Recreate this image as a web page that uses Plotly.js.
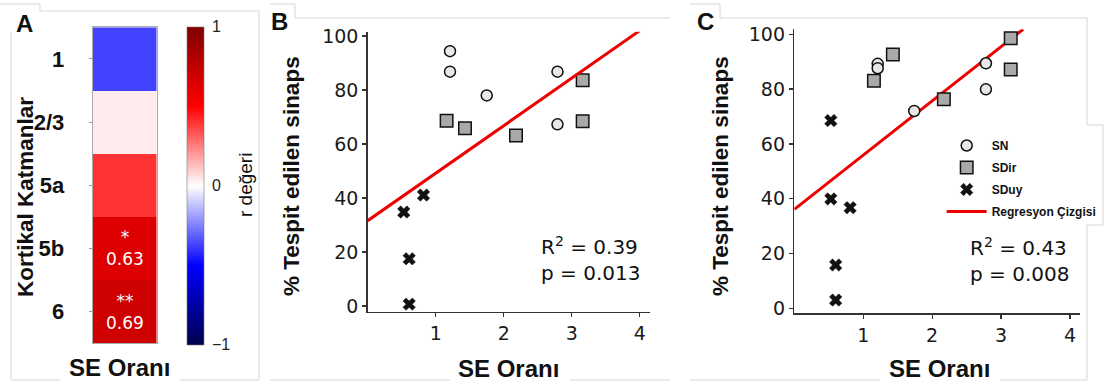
<!DOCTYPE html>
<html><head><meta charset="utf-8">
<script src="https://cdn.plot.ly/plotly-3.0.1.min.js"></script>
<style>html,body{margin:0;padding:0;background:#fff;} #chart{width:1105px;height:384px;}</style>
</head><body><div id="chart"></div>
<script>
// ---------- Panel A data ----------
const layers = ['1', '2/3', '5a', '5b', '6'];
const rValues = [-0.37, 0.04, 0.40, 0.63, 0.69];
const rStars = ['', '', '', '*', '**'];
const rLabels = ['', '', '', '0.63', '0.69'];
const heatCol = ['SE Oranı'];
const cbTickVals = [-1, 0, 1];
const cbTickText = ['−1', '0', '1'];

// ---------- Panel B data ----------
const B_SN_x = [1.21, 1.21, 1.75, 2.79, 2.79];
const B_SN_y = [94.4, 86.8, 78.0, 86.8, 67.3];
const B_SDir_x = [1.16, 1.43, 2.18, 3.16, 3.16];
const B_SDir_y = [68.6, 65.8, 63.2, 83.6, 68.4];
const B_SDuy_x = [0.53, 0.82, 0.61, 0.61];
const B_SDuy_y = [34.8, 41.1, 17.5, 0.7];
const B_reg_x = [0, 4.0];
const B_reg_y = [31.6, 102.0];
const B_stats = ['R<sup>2</sup> = 0.39', 'p = 0.013'];

// ---------- Panel C data ----------
const C_SN_x = [1.21, 1.21, 1.74, 2.78, 2.78];
const C_SN_y = [89.2, 87.6, 72.0, 89.4, 79.9];
const C_SDir_x = [1.155, 1.43, 2.17, 3.14, 3.14];
const C_SDir_y = [83.0, 92.6, 76.3, 98.5, 87.1];
const C_SDuy_x = [0.53, 0.53, 0.81, 0.60, 0.60];
const C_SDuy_y = [68.5, 39.9, 36.7, 15.8, 3.0];
const C_reg_x = [0, 3.32];
const C_reg_y = [36.1, 101.8];
const C_stats = ['R<sup>2</sup> = 0.43', 'p = 0.008'];

const xTicks = [1, 2, 3, 4];
const yTicks = [0, 20, 40, 60, 80, 100];
const seriesNames = ['SN', 'SDir', 'SDuy', 'Regresyon Çizgisi'];
const xTitle = 'SE Oranı';
const yTitle = '% Tespit edilen sinaps';
const heatYTitle = 'Kortikal Katmanlar';
const cbTitle = 'r değeri';

// ---------- helpers ----------
const W = 1105, H = 384;
const px = v => v / W;
const py = v => 1 - v / H;

const SANS = 'Liberation Sans, Arial, sans-serif';
const DJ = 'DejaVu Sans, sans-serif';

const seismic = [[0, 'rgb(0,0,77)'], [0.25, 'rgb(0,0,255)'], [0.5, 'rgb(255,255,255)'], [0.75, 'rgb(255,0,0)'], [1, 'rgb(128,0,0)']];

const snMarker = {symbol: 'circle', size: 11, color: '#e8e8e8', line: {color: '#111', width: 1.5}};
const sdirMarker = {symbol: 'square', size: 12.5, color: '#a9a9a9', line: {color: '#111', width: 1.5}};
const sduyMarker = {symbol: 'x', size: 11, color: '#111', line: {color: '#111', width: 0.5}};
const regLine = {color: '#ee0000', width: 3};

const traces = [
  {type: 'heatmap', x: heatCol, y: layers, z: rValues.map(v => [v]),
   colorscale: seismic, zmin: -1, zmax: 1, xaxis: 'x', yaxis: 'y', hoverinfo: 'skip',
   colorbar: {x: px(187.3), xanchor: 'left', xpad: 0, y: py(185.5), yanchor: 'middle', ypad: 0,
     len: (344.3 - 26.7) / H, lenmode: 'fraction', thickness: 17, thicknessmode: 'pixels',
     outlinewidth: 0.6, outlinecolor: '#777', tickvals: cbTickVals, ticktext: cbTickText,
     ticks: 'outside', ticklen: 5, tickcolor: 'rgba(0,0,0,0)',
     tickfont: {family: SANS, size: 16, color: '#222'}}},
  // B
  {type: 'scatter', mode: 'markers', x: B_SN_x, y: B_SN_y, marker: snMarker, xaxis: 'x2', yaxis: 'y2', showlegend: false, name: seriesNames[0]},
  {type: 'scatter', mode: 'markers', x: B_SDir_x, y: B_SDir_y, marker: sdirMarker, xaxis: 'x2', yaxis: 'y2', showlegend: false, name: seriesNames[1]},
  {type: 'scatter', mode: 'markers', x: B_SDuy_x, y: B_SDuy_y, marker: sduyMarker, xaxis: 'x2', yaxis: 'y2', showlegend: false, name: seriesNames[2]},
  {type: 'scatter', mode: 'lines', x: B_reg_x, y: B_reg_y, line: regLine, xaxis: 'x2', yaxis: 'y2', showlegend: false, name: seriesNames[3]},
  // C
  {type: 'scatter', mode: 'lines', x: C_reg_x, y: C_reg_y, line: regLine, xaxis: 'x3', yaxis: 'y3', showlegend: true, name: seriesNames[3], legendgroup: 'g4', legendrank: 4},
  {type: 'scatter', mode: 'markers', x: C_SN_x, y: C_SN_y, marker: snMarker, xaxis: 'x3', yaxis: 'y3', showlegend: true, name: seriesNames[0], legendgroup: 'g1', legendrank: 1},
  {type: 'scatter', mode: 'markers', x: C_SDir_x, y: C_SDir_y, marker: sdirMarker, xaxis: 'x3', yaxis: 'y3', showlegend: true, name: seriesNames[1], legendgroup: 'g2', legendrank: 2},
  {type: 'scatter', mode: 'markers', x: C_SDuy_x, y: C_SDuy_y, marker: sduyMarker, xaxis: 'x3', yaxis: 'y3', showlegend: true, name: seriesNames[2], legendgroup: 'g3', legendrank: 3}
];

const scAxisX = {ticks: 'outside', ticklen: 4, tickwidth: 1.3, tickcolor: '#333', showline: true, linecolor: '#333', linewidth: 1.5,
  showgrid: false, zeroline: false, tickvals: xTicks, tickfont: {family: DJ, size: 19, color: '#1a1a1a'}, fixedrange: true};
const scAxisY = Object.assign({}, scAxisX, {tickvals: yTicks});

const annotations = [];
function ann(text, x, y, size, opts) {
  annotations.push(Object.assign({text: text, x: px(x), y: py(y), xref: 'paper', yref: 'paper', showarrow: false,
    xanchor: 'center', yanchor: 'middle', font: {family: SANS, size: size, color: '#111', weight: 'bold'}}, opts || {}));
}
ann('A', 24, 23, 24);
ann('B', 279.5, 22, 24);
ann('C', 705.5, 22, 24);
ann(heatYTitle, 25, 197, 22.5, {textangle: -90});
ann(xTitle, 119, 367, 24);
ann(xTitle, 509, 368, 24);
ann(xTitle, 939, 368, 24);
ann(yTitle, 292, 176, 22.5, {textangle: -90});
ann(yTitle, 721, 176, 22.5, {textangle: -90});
ann(cbTitle, 246, 185, 19, {textangle: -90, font: {family: SANS, size: 19, color: '#111'}});
ann(B_stats.join('<br>'), 539.3, 259, 20, {xanchor: 'left', align: 'left', font: {family: DJ, size: 20, color: '#111'}});
ann(C_stats.join('<br>'), 967.7, 259.5, 20, {xanchor: 'left', align: 'left', font: {family: DJ, size: 20, color: '#111'}});
// heatmap cell labels (category index positions)
layers.forEach((l, i) => {
  if (rLabels[i]) {
    annotations.push({text: rStars[i] + '<br>' + rLabels[i], x: 0, y: i, xref: 'x', yref: 'y',
      showarrow: false, font: {family: DJ, size: 17, color: '#fff'}, align: 'center'});
  }
});

// faint panel borders
const shapes = [];
function L(x0, y0, x1, y1) {
  shapes.push({type: 'line', xref: 'paper', yref: 'paper', x0: px(x0), y0: py(y0), x1: px(x1), y1: py(y1),
    line: {color: '#d6d6d6', width: 1}, layer: 'below'});
}
L(0, 4, 40, 4); L(40, 4, 40, 11); L(40, 11, 259, 11); L(11, 32, 11, 380); L(259, 11, 259, 380);
L(11, 380, 60, 380); L(180, 380, 259, 380);
L(270, 4, 295, 4); L(295, 4, 295, 18); L(295, 18, 670, 18); L(270, 380, 450, 380); L(570, 380, 670, 380);
L(690, 4, 720, 4); L(720, 4, 720, 18); L(720, 18, 1087, 18); L(1087, 18, 1087, 125); L(1087, 125, 1103, 125);
L(1103, 125, 1103, 225); L(1087, 225, 1103, 225); L(1087, 225, 1087, 380); L(690, 380, 880, 380); L(1000, 380, 1087, 380);

const layout = {
  width: W, height: H, autosize: false, margin: {l: 0, r: 0, t: 0, b: 0, pad: 0},
  paper_bgcolor: '#fff', plot_bgcolor: 'rgba(0,0,0,0)', font: {family: SANS, color: '#111'},
  xaxis: {domain: [px(92.7), px(156.7)], anchor: 'y', type: 'category', range: [-0.5, 0.5], showticklabels: false, ticks: '',
    showline: true, mirror: true, linecolor: '#aaa', linewidth: 1, showgrid: false, zeroline: false, fixedrange: true},
  yaxis: {domain: [py(343.3), py(27.3)], anchor: 'x', type: 'category', categoryorder: 'array', categoryarray: layers,
    range: [layers.length - 0.5, -0.5], autorange: false,
    ticks: 'outside', ticklen: 3, tickcolor: '#999', ticklabelstandoff: 20, showline: true, mirror: true, linecolor: '#aaa',
    showgrid: false, zeroline: false, fixedrange: true,
    tickfont: {family: SANS, size: 22, weight: 'bold', color: '#111'}},
  xaxis2: Object.assign({}, scAxisX, {domain: [px(367.7), px(650)], anchor: 'y2', range: [0, 4.15]}),
  yaxis2: Object.assign({}, scAxisY, {domain: [py(311.7), py(31.7)], anchor: 'x2', range: [-2.1, 101.6]}),
  xaxis3: Object.assign({}, scAxisX, {domain: [px(794.3), px(1080)], anchor: 'y3', range: [0, 4.145]}),
  yaxis3: Object.assign({}, scAxisY, {domain: [py(313.3), py(29.3)], anchor: 'x3', range: [-1.82, 101.8]}),
  showlegend: true,
  legend: {x: px(941.7), xanchor: 'left', y: py(131), yanchor: 'top', bgcolor: 'rgba(0,0,0,0)', borderwidth: 0,
    font: {family: SANS, size: 12, weight: 'bold', color: '#111'}, itemwidth: 40, tracegroupgap: 3, traceorder: 'grouped'},
  annotations: annotations,
  shapes: shapes
};

Plotly.newPlot('chart', traces, layout, {staticPlot: true, displayModeBar: false});
</script>
</body></html>
